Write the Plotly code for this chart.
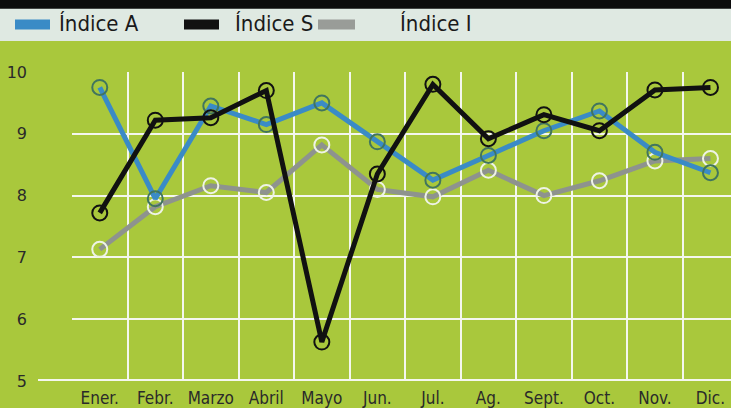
import plotly.graph_objects as go

# Datos del gráfico: evolución mensual de los índices
meses = ['Ener.', 'Febr.', 'Marzo', 'Abril', 'Mayo', 'Jun.',
         'Jul.', 'Ag.', 'Sept.', 'Oct.', 'Nov.', 'Dic.']
indice_a = [9.75, 7.95, 9.45, 9.15, 9.5, 8.87, 8.25, 8.65, 9.05, 9.37, 8.7, 8.37]
indice_s = [7.72, 9.22, 9.26, 9.7, 5.63, 8.35, 9.8, 8.92, 9.31, 9.05, 9.71, 9.75]
indice_i = [7.13, 7.82, 8.16, 8.05, 8.82, 8.1, 7.98, 8.41, 8.0, 8.24, 8.56, 8.6]
ticks_y = [5, 6, 7, 8, 9, 10]

VERDE = '#a9c83c'
FUENTE = 'Liberation Sans Narrow, DejaVu Sans Condensed, sans-serif'

x = list(range(len(meses)))

fig = go.Figure()

# orden de dibujo: gris, azul, negro
series = [
    (indice_i, '#8e938e', '#eef3e6'),
    (indice_a, '#3a8bc6', '#41755e'),
    (indice_s, '#111111', '#111111'),
]
for vals, color, borde in series:
    fig.add_trace(go.Scatter(
        x=x, y=vals, mode='lines+markers', cliponaxis=False, showlegend=False,
        line=dict(color=color, width=5),
        marker=dict(symbol='circle-open', size=15, color=borde, line=dict(width=2, color=borde)),
    ))

# banda superior (título cortado) y zona de leyenda
fig.add_shape(type='rect', xref='paper', yref='paper', x0=-0.2, x1=1.1, y0=1.1, y1=2.0,
              fillcolor='#dfe9e2', line_width=0, layer='below')
fig.add_shape(type='rect', xref='paper', yref='paper', x0=-0.2, x1=1.1, y0=1.205, y1=2.0,
              fillcolor='#0c0c0c', line_width=0, layer='below')

# leyenda hecha a mano
leyenda = [('Índice A', '#3a8bc6', 15, 50, 57), ('Índice S', '#111111', 184, 219, 233),
           ('Índice I', '#999c98', 318, 355, 398)]
ancho = 731 - 72
for nombre, color, a, b, t in leyenda:
    fig.add_shape(type='rect', xref='paper', yref='paper',
                  x0=(a - 72) / ancho, x1=(b - 72) / ancho,
                  y0=(384 - 29) / 312, y1=(384 - 19) / 312,
                  fillcolor=color, line_width=0)
    fig.add_annotation(xref='paper', yref='paper', x=(t - 72) / ancho, y=(384 - 23) / 312,
                       text=nombre, showarrow=False, xanchor='left', yanchor='middle',
                       font=dict(family=FUENTE, size=22, color='#1a1a1a'))

# línea base blanca gruesa
fig.add_shape(type='line', xref='paper', yref='y', x0=(38 - 72) / ancho, x1=1.1, y0=5, y1=5,
              line=dict(color='#f4f7ee', width=4))

fig.update_layout(
    width=731, height=408,
    margin=dict(l=72, r=0, t=72, b=24),
    paper_bgcolor=VERDE, plot_bgcolor=VERDE,
    font=dict(family=FUENTE, color='#2a2a2a'),
)
fig.update_xaxes(
    range=[-0.5, 11.37], tickmode='array', tickvals=x, ticktext=meses,
    showgrid=False, zeroline=False, showline=False, ticks='',
    tickfont=dict(size=17, color='#2a2a2a'), ticklabelstandoff=5,
    minor=dict(tickmode='array', tickvals=[i - 0.5 for i in x], showgrid=True,
               gridcolor='#f4f7ee', gridwidth=1.5),
)
fig.update_yaxes(
    range=[5, 10], tickmode='array', tickvals=ticks_y,
    showgrid=True, gridcolor='#f4f7ee', gridwidth=1.5, zeroline=False, showline=False,
    ticks='', tickfont=dict(family='DejaVu Sans, sans-serif', size=16, color='#2a2a2a'),
    ticklabelstandoff=44,
)

# sin margen del body y sin barra de herramientas
fig.write_html("out.html", config={'displayModeBar': False},
               post_script="document.body.style.margin='0';")
